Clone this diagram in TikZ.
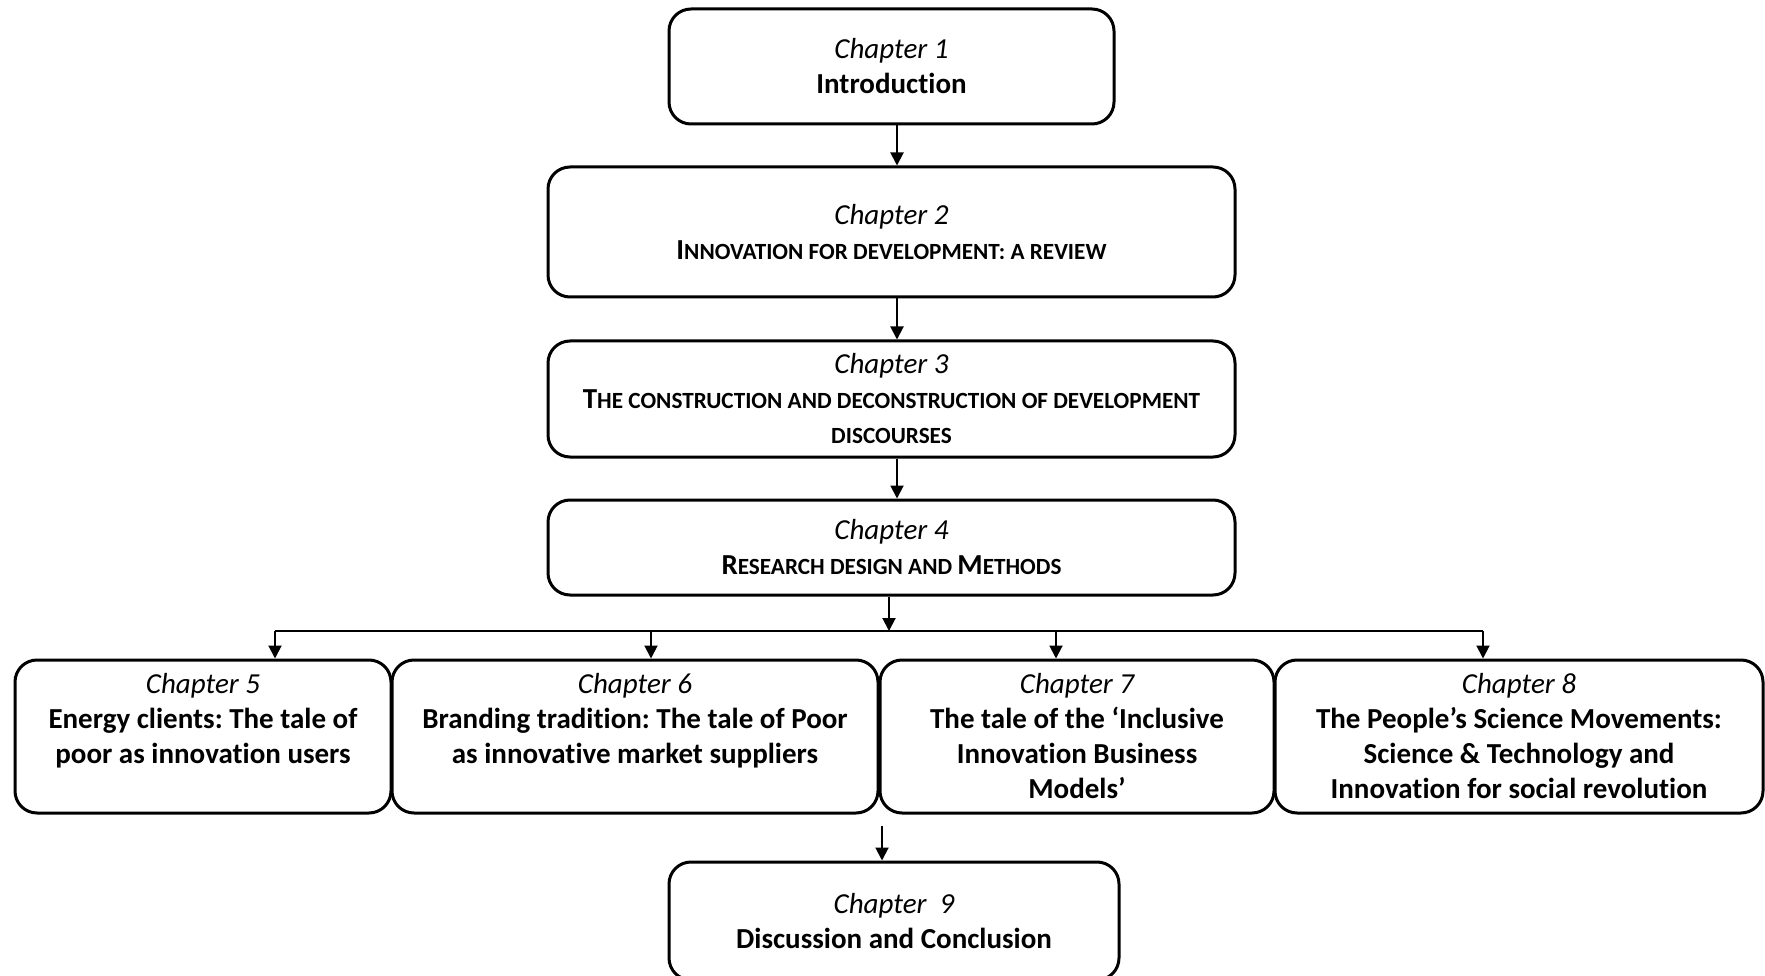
\documentclass[tikz,border=0pt]{standalone}
\usepackage{fontspec}
\setmainfont[Ligatures=NoCommon]{Carlito}
\usetikzlibrary{arrows.meta}
\frenchspacing

% synthetic small capitals (Word-style, 80% size)
\newcommand\smc[1]{{\fontsize{23.2pt}{35pt}\selectfont #1}}
% italic chapter label
\newcommand\chap[1]{{\itshape\mdseries Chapter #1}}
% text block pinned to the top of a fixed-height box
\newcommand\topbox[2]{\parbox[c][126pt][t]{#1}{\centering #2}}

\begin{document}
\begin{tikzpicture}[x=1pt,y=-1pt,
  chbox/.style={draw=black, line width=3pt, rounded corners=22pt,
    inner sep=0pt, align=center,
    font=\fontsize{29pt}{35pt}\selectfont\bfseries},
  link/.style={line width=2pt, draw=black},
  arr/.style={link, -{Triangle[length=13pt,width=13pt]}}]

\useasboundingbox (0,0) rectangle (1765,976);

% main spine
\node[chbox, minimum width=445pt, minimum height=115pt] (c1) at (891.5,66.5)
  {\chap{1}\\Introduction};
\node[chbox, minimum width=687pt, minimum height=130pt] (c2) at (891.5,232)
  {\chap{2}\\I\smc{NNOVATION FOR DEVELOPMENT: A REVIEW}};
\node[chbox, minimum width=687pt, minimum height=116pt] (c3) at (891.5,399)
  {\chap{3}\\T\smc{HE CONSTRUCTION AND DECONSTRUCTION OF DEVELOPMENT}\\\smc{DISCOURSES}};
\node[chbox, minimum width=687pt, minimum height=95pt] (c4) at (891.5,547.5)
  {\chap{4}\\R\smc{ESEARCH DESIGN AND }M\smc{ETHODS}};

% empirical chapters
\node[chbox, minimum width=376pt, minimum height=153pt] (c5) at (203,736.5)
  {\topbox{360pt}{\chap{5}\\Energy clients: The tale of\\poor as innovation users}};
\node[chbox, minimum width=486pt, minimum height=153pt] (c6) at (635,736.5)
  {\topbox{470pt}{\chap{6}\\Branding tradition: The tale of Poor\\as innovative market suppliers}};
\node[chbox, minimum width=394pt, minimum height=153pt] (c7) at (1077,736.5)
  {\chap{7}\\The tale of the ‘Inclusive\\Innovation Business\\Models’};
\node[chbox, minimum width=488pt, minimum height=153pt] (c8) at (1519,736.5)
  {\chap{8}\\The People’s Science Movements:\\Science \& Technology and\\Innovation for social revolution};

% conclusion
\node[chbox, minimum width=450pt, minimum height=118pt] (c9) at (894,921)
  {\chap{\ 9}\\Discussion and Conclusion};

% vertical arrows of the spine
\coordinate (ax) at (897,0);
\draw[arr] (c1.south -| ax) -- (c2.north -| ax);
\draw[arr] (c2.south -| ax) -- (c3.north -| ax);
\draw[arr] (c3.south -| ax) -- (c4.north -| ax);

% distribution bus
\coordinate (bus) at (889,631);
\coordinate (d5) at (275,631);
\coordinate (d6) at (651,631);
\coordinate (d7) at (1056,631);
\coordinate (d8) at (1483,631);
\draw[arr] (c4.south -| bus) -- (bus);
\draw[link] (d5) -- (d8);
\draw[arr] (d5) -- (c5.north -| d5);
\draw[arr] (d6) -- (c6.north -| d6);
\draw[arr] (d7) -- (c7.north -| d7);
\draw[arr] (d8) -- (c8.north -| d8);

% into the conclusion
\coordinate (j9) at (882,826);
\draw[arr] (j9) -- (c9.north -| j9);
\end{tikzpicture}
\end{document}
